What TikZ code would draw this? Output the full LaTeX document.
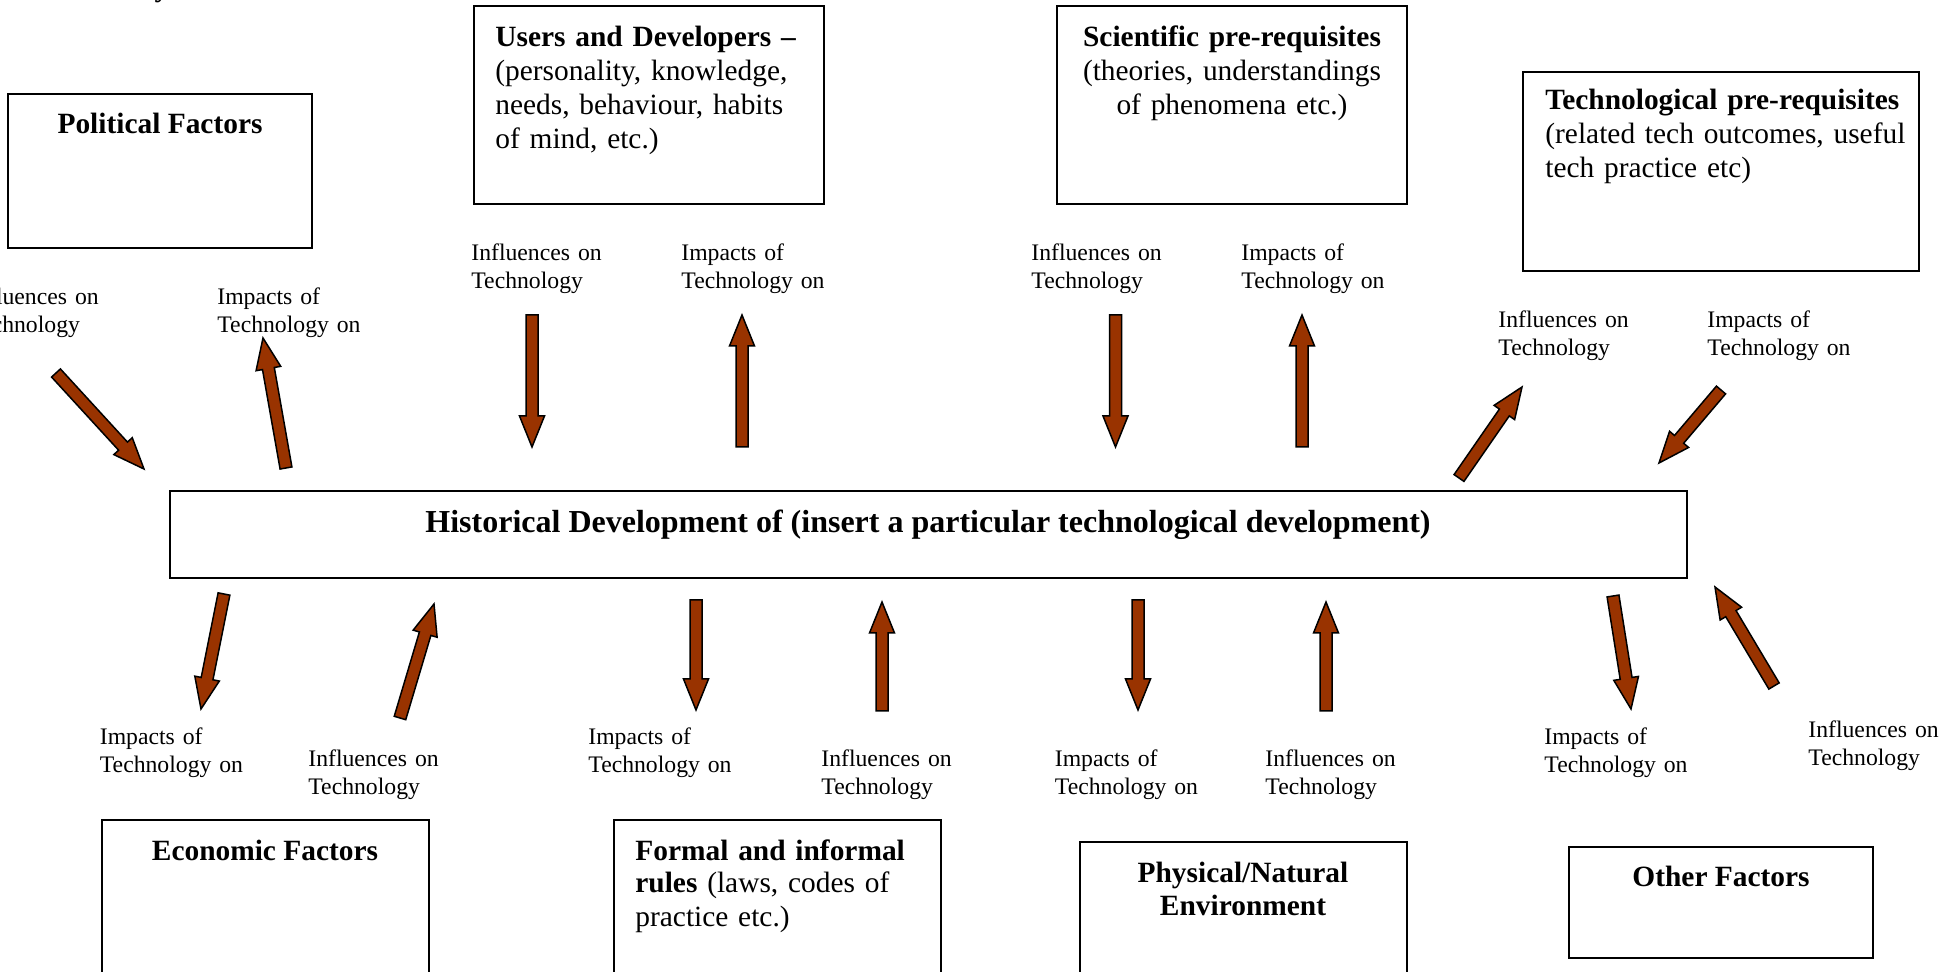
\documentclass[tikz,border=0pt]{standalone}
\usepackage{fontspec}
\setmainfont{Liberation Serif}
\usetikzlibrary{calc,fit}
\definecolor{arrowbrown}{RGB}{153,51,0}
\tikzset{
  box/.style={draw=black, line width=1pt, inner sep=0pt},
  lbl/.style={inner sep=0pt, anchor=base west, align=left, text width=80pt, font=\fontsize{11.85}{14.15}\selectfont},
  btxt/.style={inner sep=0pt, align=left, font=\fontsize{14.7}{17}\selectfont},
  hfont/.style={inner sep=0pt, anchor=base, font=\fontsize{14.7}{17}\selectfont\bfseries},
  barrow/.style={draw=black, line width=0.75pt, fill=arrowbrown, line join=miter},
}
\newcommand\blockarrow[2]{%
  \path ($(#2)!15.5pt!(#1)$) coordinate (bah);
  \draw[barrow] ($(#1)!3pt!90:(#2)$) -- ($(bah)!3pt!90:(#2)$) -- ($(bah)!6.25pt!90:(#2)$) -- (#2)
     -- ($(bah)!6.25pt!-90:(#2)$) -- ($(bah)!3pt!-90:(#2)$) -- ($(#1)!3pt!-90:(#2)$) -- cycle;
}
\begin{document}
\begin{tikzpicture}[x=0.5pt,y=-0.5pt]
\useasboundingbox (0,0) rectangle (1950,972);
\clip (0,0) rectangle (1950,972);
\fill[white] (0,0) rectangle (1950,972);

% title fragment
\node[hfont] (ttl) at (162,-3.5) {y};

% boxes
\node[box, fit={(8,94) (312,248)}] (pol) {};
\node[box, fit={(474,6) (824,204)}] (usr) {};
\node[box, fit={(1057,6) (1407,204)}] (sci) {};
\node[box, fit={(1523,72) (1919,271)}] (tec) {};
\node[box, fit={(170,491) (1687,578)}] (hist) {};
\node[box, fit={(102,820) (429,995)}] (eco) {};
\node[box, fit={(614,820) (941,995)}] (frm) {};
\node[box, fit={(1080,842) (1407,995)}] (phy) {};
\node[box, fit={(1569,847) (1873,958)}] (oth) {};

% box texts
\node[hfont] (polt) at (160,134) {Political Factors};
\node[btxt, anchor=base west, text width=170pt] (usrt) at (495,47)
  {\textbf{Users and Developers –}\\(personality, knowledge,\\needs, behaviour, habits\\of mind, etc.)};
\node[btxt, anchor=base, text width=170pt, align=center] (scit) at (1232,47)
  {\textbf{Scientific pre-requisites}\\(theories, understandings\\of phenomena etc.)};
\node[btxt, anchor=base west, text width=190pt] (tect) at (1545,110)
  {\textbf{Technological pre-requisites}\\(related tech outcomes, useful\\tech practice etc)};
\node[inner sep=0pt, anchor=base, font=\fontsize{16}{19}\selectfont\bfseries] (histt) at (928,532.5)
  {Historical Development of (insert a particular technological development)};
\node[hfont] (ecot) at (265,860) {Economic Factors};
\node[btxt, anchor=base west, text width=160pt, font=\fontsize{14.7}{16.5}\selectfont] (frmt) at (635,860)
  {\textbf{Formal and informal}\\\textbf{rules} (laws, codes of\\practice etc.)};
\node[btxt, anchor=base, text width=160pt, align=center, font=\fontsize{14.7}{16.5}\selectfont\bfseries] (phyt) at (1243,882)
  {Physical/Natural\\Environment};
\node[hfont] (otht) at (1721,886.5) {Other Factors};

% labels
\node[lbl] (l1) at (-32,304.5) {Influences on\\Technology};
\node[lbl] (l2) at (217,304.5) {Impacts of\\Technology on};
\node[lbl] (l3) at (471,260.5) {Influences on\\Technology};
\node[lbl] (l4) at (681,260.5) {Impacts of\\Technology on};
\node[lbl] (l5) at (1031,260.5) {Influences on\\Technology};
\node[lbl] (l6) at (1241,260.5) {Impacts of\\Technology on};
\node[lbl] (l7) at (1498,327.5) {Influences on\\Technology};
\node[lbl] (l8) at (1707,327.5) {Impacts of\\Technology on};
\node[lbl] (l9) at (99.5,744.5) {Impacts of\\Technology on};
\node[lbl] (l10) at (308,766.5) {Influences on\\Technology};
\node[lbl] (l11) at (588,744.5) {Impacts of\\Technology on};
\node[lbl] (l12) at (821,766.5) {Influences on\\Technology};
\node[lbl] (l13) at (1054.5,766.5) {Impacts of\\Technology on};
\node[lbl] (l14) at (1265,766.5) {Influences on\\Technology};
\node[lbl] (l15) at (1544,744.5) {Impacts of\\Technology on};
\node[lbl] (l16) at (1808,737.5) {Influences on\\Technology};

% arrow end points
\coordinate (a1t) at (56,373);    \coordinate (a1h) at (144,469);
\coordinate (a2t) at (286,468);   \coordinate (a2h) at (263,338);
\coordinate (a3t) at (532,315);   \coordinate (a3h) at (532,447);
\coordinate (a4t) at (742,447);   \coordinate (a4h) at (742,315);
\coordinate (a5t) at (1115.5,315);\coordinate (a5h) at (1115.5,447);
\coordinate (a6t) at (1302,447);  \coordinate (a6h) at (1302,315);
\coordinate (a7t) at (1459,478);  \coordinate (a7h) at (1522,387);
\coordinate (a8t) at (1721,390);  \coordinate (a8h) at (1659,463);
\coordinate (a9t) at (224,594);   \coordinate (a9h) at (201,709);
\coordinate (a10t) at (400,718);  \coordinate (a10h) at (434,604);
\coordinate (a11t) at (696,600);  \coordinate (a11h) at (696,710);
\coordinate (a12t) at (882,711);  \coordinate (a12h) at (882,602);
\coordinate (a13t) at (1138,600); \coordinate (a13h) at (1138,710);
\coordinate (a14t) at (1326,711); \coordinate (a14h) at (1326,602);
\coordinate (a15t) at (1613,596); \coordinate (a15h) at (1631,709);
\coordinate (a16t) at (1774,686); \coordinate (a16h) at (1715,587);

\blockarrow{a1t}{a1h}
\blockarrow{a2t}{a2h}
\blockarrow{a3t}{a3h}
\blockarrow{a4t}{a4h}
\blockarrow{a5t}{a5h}
\blockarrow{a6t}{a6h}
\blockarrow{a7t}{a7h}
\blockarrow{a8t}{a8h}
\blockarrow{a9t}{a9h}
\blockarrow{a10t}{a10h}
\blockarrow{a11t}{a11h}
\blockarrow{a12t}{a12h}
\blockarrow{a13t}{a13h}
\blockarrow{a14t}{a14h}
\blockarrow{a15t}{a15h}
\blockarrow{a16t}{a16h}
\end{tikzpicture}
\end{document}
